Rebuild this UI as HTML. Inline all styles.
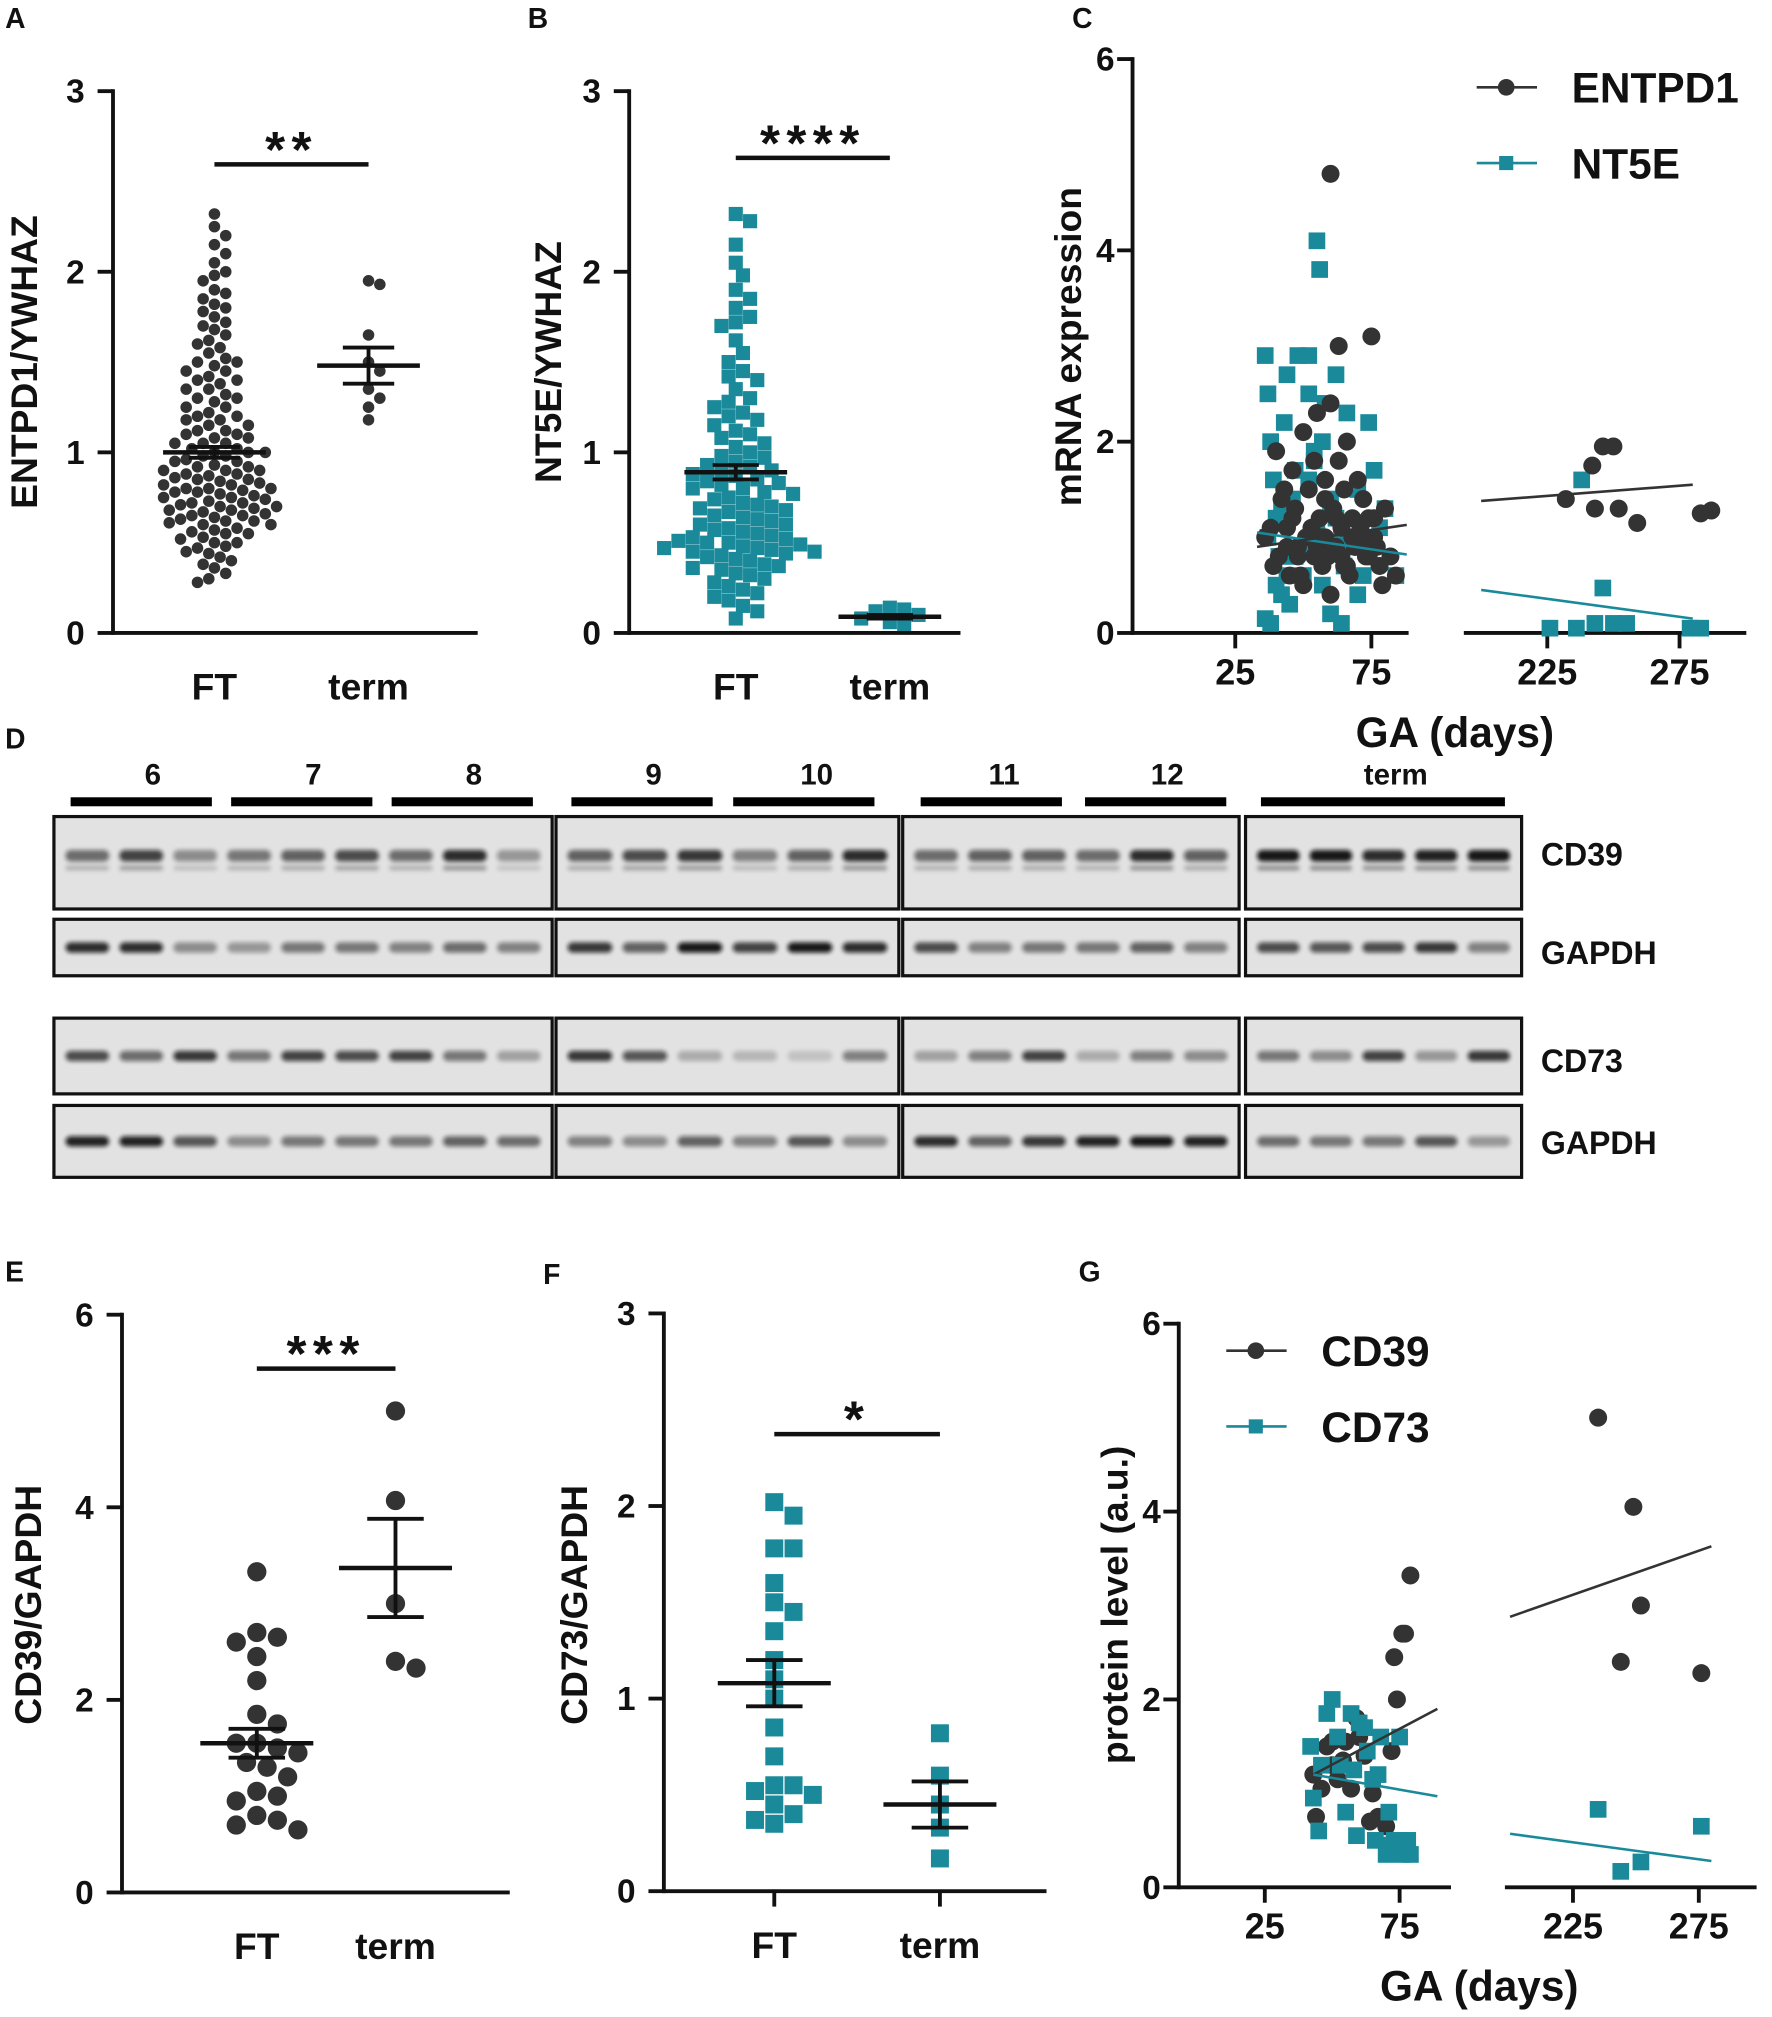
<!DOCTYPE html>
<html><head><meta charset="utf-8"><style>
html,body{margin:0;padding:0;background:#fff}
svg{display:block}
text{font-family:"Liberation Sans",sans-serif;font-weight:bold;fill:#111}
</style></head><body>
<svg id="fig" width="1772" height="2017" viewBox="0 0 1380 1571" preserveAspectRatio="none" xmlns="http://www.w3.org/2000/svg">
<defs><filter id="blur" x="-20%" y="-100%" width="140%" height="300%"><feGaussianBlur stdDeviation="1.6"/></filter></defs>
</svg>
<script>
// ---------- DATA ----------
const catsAB=["FT","term"];
const aFT=[2.32,2.25,2.2,2.15,2.1,2.05,2.0,1.98,1.95,1.9,1.88,1.85,1.82,1.8,1.78,1.75,1.72,1.7,1.68,1.65,1.62,1.6,1.58,1.55,1.52,1.5,1.5,1.48,1.45,1.45,1.42,1.4,1.4,1.38,1.35,1.35,1.32,1.3,1.3,1.28,1.25,1.25,1.22,1.2,1.2,1.18,1.18,1.15,1.15,1.12,1.12,1.1,1.1,1.08,1.08,1.05,1.05,1.05,1.02,1.02,1.0,1.0,1.0,0.98,0.98,0.96,0.95,0.95,0.93,0.92,0.92,0.9,0.9,0.9,0.88,0.88,0.87,0.86,0.85,0.85,0.84,0.83,0.82,0.82,0.8,0.8,0.8,0.79,0.78,0.78,0.77,0.76,0.75,0.75,0.74,0.73,0.72,0.72,0.71,0.7,0.7,0.69,0.68,0.68,0.67,0.66,0.65,0.65,0.64,0.63,0.62,0.62,0.61,0.6,0.6,0.58,0.57,0.56,0.55,0.55,0.53,0.52,0.5,0.5,0.48,0.47,0.45,0.44,0.42,0.4,0.38,0.36,0.33,0.3,0.28];
const aTerm=[1.95,1.93,1.65,1.5,1.45,1.35,1.3,1.25,1.18];
const aMean=[1.0,1.48], aSem=[0.03,0.1];
const bFT=[2.32,2.28,2.15,2.05,1.98,1.9,1.85,1.8,1.75,1.72,1.7,1.62,1.55,1.5,1.45,1.42,1.4,1.35,1.3,1.28,1.25,1.22,1.2,1.18,1.15,1.12,1.1,1.08,1.05,1.03,1.0,0.98,0.97,0.95,0.93,0.92,0.9,0.9,0.88,0.87,0.85,0.84,0.83,0.82,0.8,0.8,0.78,0.77,0.75,0.74,0.72,0.71,0.7,0.69,0.68,0.67,0.65,0.64,0.63,0.62,0.6,0.6,0.58,0.57,0.56,0.55,0.54,0.53,0.52,0.51,0.5,0.5,0.49,0.48,0.47,0.47,0.46,0.45,0.45,0.44,0.43,0.42,0.41,0.4,0.38,0.37,0.36,0.35,0.33,0.32,0.3,0.28,0.26,0.24,0.22,0.2,0.18,0.15,0.12,0.08];
const bTerm=[0.14,0.13,0.12,0.1,0.08,0.06,0.05];
const bMean=[0.89,0.09], bSem=[0.04,0.01];
const eFT=[3.33,2.7,2.65,2.6,2.45,2.2,1.85,1.75,1.55,1.55,1.5,1.45,1.35,1.3,1.2,1.05,1.0,0.95,0.8,0.75,0.7,0.65];
const eTerm=[5.0,4.07,3.0,2.4,2.33];
const eMean=[1.55,3.37], eSem=[0.15,0.51];
const fFT=[2.02,1.95,1.78,1.78,1.6,1.5,1.45,1.35,1.2,1.1,1.0,0.85,0.7,0.55,0.55,0.5,0.45,0.4,0.37,0.35,0.52];
const fTerm=[0.82,0.6,0.45,0.33,0.17];
const fMean=[1.08,0.45], fSem=[0.12,0.12];
// Panel C: [day, value]
const cEntDays=[40,42,44,45,46,47,48,50,50,52,53,54,55,56,57,58,58,60,60,61,62,63,64,65,65,66,67,68,69,70,70,72,73,74,75,76,78,80,82,84,38,41,43,46,49,51,55,59,62,66,69,71,74,77,79,36,39,44,48,53,57,61,64,68,72,76,60,63,54,58,232,242,246,250,243,252,259,283,287];
const cEntVals=[1.9,1.4,1.1,0.6,1.7,1.3,0.9,2.1,0.5,1.5,1.0,0.8,2.3,1.2,0.7,1.6,1.0,2.4,0.4,1.3,0.9,1.8,1.1,0.7,1.5,2.0,0.6,1.2,0.9,1.6,1.0,1.4,0.8,1.2,3.1,1.0,0.7,1.3,0.8,0.6,1.1,0.8,1.5,1.2,0.6,1.0,0.9,0.8,1.2,0.7,0.9,1.1,0.8,0.9,0.5,1.0,0.7,0.9,0.8,1.1,1.0,0.9,0.8,1.0,0.9,1.2,4.8,3.0,1.8,1.4,1.4,1.75,1.95,1.95,1.3,1.3,1.15,1.25,1.28];
const cNtDays=[36,37,38,39,40,41,42,43,44,46,48,50,52,54,55,56,58,60,62,64,66,70,72,74,76,80,84,38,40,45,50,55,60,65,70,75,37,42,47,52,57,62,67,72,78,36,44,54,64,52,57,60,47,226,236,238,243,246,250,255,279,283];
const cNtVals=[2.9,2.5,2.0,1.6,1.2,0.8,0.4,2.2,2.7,1.4,2.9,0.6,2.5,1.8,4.1,3.8,2.4,1.3,2.7,1.0,2.3,1.5,0.9,2.2,1.7,1.3,0.6,0.1,0.5,0.3,0.9,1.1,0.2,0.7,0.4,1.0,1.0,1.3,0.8,1.6,0.5,1.2,0.9,0.6,1.1,0.15,0.6,1.9,0.1,2.9,2.0,1.4,1.7,0.05,0.05,1.6,0.1,0.47,0.1,0.1,0.05,0.05];
const cFitEnt=[[33,0.9],[88,1.13],[200,1.38],[280,1.55]];
const cFitNt=[[33,1.05],[88,0.82],[200,0.45],[280,0.15]];
// Panel G
const gCd39Days=[43,44,46,48,50,50,52,54,55,57,59,60,62,64,65,67,70,72,73,74,76,77,79,235,249,252,244,276];
const gCd39Vals=[1.2,0.75,1.05,1.5,1.55,1.3,1.15,1.35,1.55,1.05,1.8,1.6,1.4,0.7,1.0,0.75,0.65,1.45,2.45,2.0,2.7,2.7,3.32,5.0,4.05,3.0,2.4,2.28];
const gCd73Days=[42,43,45,46,48,50,52,53,55,57,58,59,60,62,63,65,66,67,68,70,71,72,73,75,76,78,79,235,244,252,276];
const gCd73Vals=[1.5,0.95,0.6,1.3,1.85,2.0,1.6,1.3,0.8,1.85,1.25,0.55,1.75,1.7,1.45,1.15,0.5,1.2,1.6,0.35,0.8,0.45,0.5,1.6,0.35,0.5,0.35,0.83,0.17,0.27,0.65];
const gFitCd39=[[43,1.2],[89,1.9],[200,2.88],[280,3.63]];
const gFitCd73=[[43,1.2],[89,0.97],[200,0.57],[280,0.28]];
const ticks03=[0,1,2,3], ticks06=[0,2,4,6];
const xTicks1=[25,75], xTicks2=[225,275];

// ---------- helpers ----------
const NS="http://www.w3.org/2000/svg", svg=document.getElementById('fig');
const TEAL="#1a8a9a", DARK="#333";
function mk(tag,at,parent,txt){const e=document.createElementNS(NS,tag);for(const k in at)e.setAttribute(k,at[k]);if(txt!=null)e.textContent=txt;(parent||svg).appendChild(e);return e;}
function grp(name){const g=mk('g',{});return g;}
function line(g,x1,y1,x2,y2,w,c){return mk('line',{x1,y1,x2,y2,stroke:c||'#111','stroke-width':w||3},g);}
function txt(g,x,y,s,size,anchor,rot){const a={x,y,'font-size':size,'text-anchor':anchor||'middle'};if(rot)a.transform=`rotate(-90 ${x} ${y})`;return mk('text',a,g,s);}
function letter(x,y,s){const t=txt(svg,x,y,s,22,'start');}
function swarm(vals,y,cx,d){const order=vals.map((v,i)=>i).sort((a,b)=>vals[b]-vals[a]);const placed=[];const out=[];
 for(const i of order){const py=y(vals[i]);let k=0,px;while(true){const off=Math.ceil(k/2)*(k%2?1:-1)*d*0.5;px=cx+off;if(!placed.some(p=>Math.hypot(p[0]-px,p[1]-py)<d))break;k++;if(k>60)break;}placed.push([px,py]);out.push([px,py]);}return out;}
function mark(g,x,y,shape,size,color){if(shape==='c')return mk('circle',{cx:x,cy:y,r:size/2,fill:color},g);return mk('rect',{x:x-size/2,y:y-size/2,width:size,height:size,fill:color},g);}

// ---------- dot plot panels ----------
function dotPanel(o){
 const g=grp(o.name);
 const y=v=>o.y0-(v/o.max)*(o.y0-o.yTop);
 const ax=grp(o.name+'-y-axis');g.appendChild(ax);
 line(ax,o.x0,o.yTop-1.5,o.x0,o.y0+1.5,3);
 o.ticks.forEach(t=>{line(ax,o.x0-12,y(t),o.x0,y(t),3);txt(ax,o.x0-22,y(t)+9,String(t),26,'end');});
 const xa=grp(o.name+'-x-axis');g.appendChild(xa);
 line(xa,o.x0,o.y0,o.x1,o.y0,3);
 o.cx.forEach((c,i)=>{if(o.xticks)line(xa,c,o.y0,c,o.y0+12,3);txt(xa,c,o.y0+52,catsAB[i],29);});
 const yt=txt(g,o.ytx,o.yty,o.ytitle,29,'middle',true);
 [o.d0,o.d1].forEach((vals,i)=>{const s=grp(o.name+'-points-'+catsAB[i].toLowerCase());g.appendChild(s);
  swarm(vals,y,o.cx[i],(o.size+1)*(o.pack||1)).forEach(p=>{const m=mark(s,p[0],p[1],o.shape,o.size,o.color);});});
 o.mean.forEach((m,i)=>{const s=grp(o.name+'-mean-sem-'+catsAB[i].toLowerCase());g.appendChild(s);
  const c=o.cx[i];line(s,c-o.mw,y(m),c+o.mw,y(m),3.5);line(s,c,y(m-o.sem[i]),c,y(m+o.sem[i]),3);
  line(s,c-o.cw,y(m-o.sem[i]),c+o.cw,y(m-o.sem[i]),3);line(s,c-o.cw,y(m+o.sem[i]),c+o.cw,y(m+o.sem[i]),3);});
 const sg=grp(o.name+'-significance');g.appendChild(sg);
 line(sg,o.cx[0],o.sigY,o.cx[1],o.sigY,3.5);
 const st=txt(sg,(o.cx[0]+o.cx[1])/2,o.sigY+o.starDy,o.stars,40);st.setAttribute('letter-spacing','5');
}
dotPanel({name:'panel-a',x0:88,x1:372,y0:493,yTop:71,max:3,ticks:ticks03,cx:[167,287],ytitle:'ENTPD1/YWHAZ',ytx:29,yty:282,d0:aFT,d1:aTerm,mean:aMean,sem:aSem,shape:'c',size:9,pack:0.88,color:DARK,mw:40,cw:20,sigY:128,starDy:2,stars:'**'});
dotPanel({name:'panel-b',x0:490,x1:748,y0:493,yTop:71,max:3,ticks:ticks03,cx:[573,693],ytitle:'NT5E/YWHAZ',ytx:437,yty:282,d0:bFT,d1:bTerm,mean:bMean,sem:bSem,shape:'s',size:11,pack:0.93,color:TEAL,mw:40,cw:18,sigY:123,starDy:2,stars:'****'});
dotPanel({name:'panel-e',x0:95,x1:397,y0:1474,yTop:1024,max:6,ticks:ticks06,cx:[200,308],ytitle:'CD39/GAPDH',ytx:32,yty:1250,d0:eFT,d1:eTerm,mean:eMean,sem:eSem,shape:'c',size:15,color:DARK,mw:44,cw:22,sigY:1066,starDy:2,stars:'***'});
dotPanel({name:'panel-f',x0:517,x1:815,y0:1473,yTop:1023,max:3,ticks:ticks03,cx:[603,732],xticks:true,ytitle:'CD73/GAPDH',ytx:457,yty:1250,d0:fFT,d1:fTerm,mean:fMean,sem:fSem,shape:'s',size:14,color:TEAL,mw:44,cw:22,sigY:1117,starDy:2,stars:'*'});

// ---------- scatter split panels ----------
function splitPanel(o){
 const g=grp(o.name);
 const y=v=>o.y0-(v/6)*(o.y0-o.yTop);
 const s1=d=>o.a1[1]+(d-o.a1[0])*o.a1[2], s2=d=>o.a2[1]+(d-o.a2[0])*o.a2[2];
 const xs=d=>d<150?s1(d):s2(d);
 const ax=grp(o.name+'-y-axis');g.appendChild(ax);
 line(ax,o.x0,o.yTop-1.5,o.x0,o.y0+1.5,3);
 ticks06.forEach(t=>{line(ax,o.x0-12,y(t),o.x0,y(t),3);txt(ax,o.x0-14,y(t)+9,String(t),26,'end');});
 const xa=grp(o.name+'-x-axis');g.appendChild(xa);
 line(xa,o.x0,o.y0,o.seg1[1],o.y0,3);line(xa,o.seg2[0],o.y0,o.seg2[1],o.y0,3);
 xTicks1.concat(xTicks2).forEach(t=>{line(xa,xs(t),o.y0,xs(t),o.y0+12,3);txt(xa,xs(t),o.y0+40,String(t),28);});
 const xt=txt(g,o.xtx,o.xty,'GA (days)',33);
 const yt=txt(g,o.ytx,o.yty,o.ytitle,29,'middle',true);
 o.series.forEach(sr=>{const sg=grp(o.name+'-series-'+sr.label.toLowerCase());g.appendChild(sg);
  sr.days.forEach((d,i)=>{const m=mark(sg,xs(d),y(sr.vals[i]),sr.shape,sr.size,sr.color);});
 });
 o.series.forEach(sr=>{const f=sr.fit;const fl=grp(o.name+'-fit-'+sr.label.toLowerCase());g.appendChild(fl);
  line(fl,s1(f[0][0]),y(f[0][1]),s1(f[1][0]),y(f[1][1]),2,sr.lc);line(fl,s2(f[2][0]),y(f[2][1]),s2(f[3][0]),y(f[3][1]),2,sr.lc);});
 o.legend.forEach((sr,i)=>{const lg=grp('legend-entry-'+sr.label.toLowerCase());g.appendChild(lg);const ly=o.legY+i*59;
  line(lg,o.legX,ly,o.legX+47,ly,2,sr.lc);mark(lg,o.legX+23,ly,sr.shape,sr.shape==='c'?13:11,sr.color);txt(lg,o.legX+74,ly+12,sr.label,33,'start');});
}
const cEnt={label:'ENTPD1',days:cEntDays,vals:cEntVals,shape:'c',size:14,color:DARK,lc:DARK,fit:cFitEnt};
const cNt={label:'NT5E',days:cNtDays,vals:cNtVals,shape:'s',size:13,color:TEAL,lc:TEAL,fit:cFitNt};
splitPanel({name:'panel-c',x0:882,y0:493,yTop:46,seg1:[882,1097],seg2:[1140,1360],a1:[25,962,2.12],a2:[225,1205,2.06],xtx:1133,xty:582,ytitle:'mRNA expression',ytx:842,yty:270,legX:1150,legY:68,
 series:[cNt,cEnt],legend:[cEnt,cNt]});
const gA={label:'CD39',days:gCd39Days,vals:gCd39Vals,shape:'c',size:14,color:DARK,lc:DARK,fit:gFitCd39};
const gB={label:'CD73',days:gCd73Days,vals:gCd73Vals,shape:'s',size:13,color:TEAL,lc:TEAL,fit:gFitCd73};
splitPanel({name:'panel-g',x0:918,y0:1470,yTop:1031,seg1:[918,1130],seg2:[1172,1368],a1:[25,985,2.1],a2:[225,1225,1.96],xtx:1152,xty:1558,ytitle:'protein level (a.u.)',ytx:878,yty:1250,legX:955,legY:1052,
 series:[gA,gB],legend:[gA,gB]});

// ---------- western blot panel D ----------
(function(){
 const g=grp('panel-d-western-blot');
 const groups=[['6',119,55,165],['7',244,180,290],['8',369,305,415],['9',509,445,555],['10',636,571,681],['11',782,717,827],['12',909,845,955],['term',1087,982,1172]];
 groups.forEach(gr=>{const h=grp('lane-group-'+gr[0]);g.appendChild(h);txt(h,gr[1],611,gr[0],23);mk('rect',{x:gr[2],y:621,width:gr[3]-gr[2],height:7,fill:'#000'},h);});
 const cols=[[42,430,9],[433,700,6],[703,965,6],[970,1185,5]];
 const rows=[['CD39',636,708,665],['GAPDH',716,760,742],['CD73',793,852,826],['GAPDH',861,917,890]];
 const inten=[
  [[.55,.75,.4,.5,.6,.7,.55,.85,.35],[.6,.7,.8,.45,.6,.85],[.55,.6,.6,.55,.85,.6],[.95,.95,.85,.9,.95]],
  [[.85,.85,.4,.35,.5,.5,.45,.55,.45],[.8,.6,.95,.75,.95,.85],[.7,.45,.5,.5,.6,.45],[.7,.65,.7,.8,.45]],
  [[.7,.55,.8,.5,.75,.7,.75,.5,.3],[.8,.65,.25,.2,.15,.45],[.3,.45,.75,.25,.45,.4],[.5,.4,.75,.35,.8]],
  [[.9,.9,.65,.4,.5,.5,.5,.6,.55],[.45,.4,.6,.45,.65,.4],[.85,.6,.8,.9,.95,.9],[.55,.5,.5,.65,.35]]];
 rows.forEach((r,ri)=>{const rg=grp('blot-row-'+r[0].toLowerCase()+'-'+ri);g.appendChild(rg);
  cols.forEach((c,ci)=>{mk('rect',{x:c[0],y:r[1],width:c[1]-c[0],height:r[2]-r[1],fill:'#e2e2e2',stroke:'#111','stroke-width':2.5},rg);
   const lw=(c[1]-c[0]-10)/c[2];
   for(let k=0;k<c[2];k++){const a=inten[ri][ci][k];const bx=c[0]+5+k*lw+4;const by=ri===0?r[1]+26:(r[1]+r[2])/2-4;
    mk('rect',{x:bx,y:by,width:lw-8,height:ri===0?9:8,rx:4,fill:'#111',opacity:a,filter:'url(#blur)'},rg);
    if(ri===0){mk('rect',{x:bx,y:by+12,width:lw-8,height:4,rx:2,fill:'#222',opacity:a*0.45,filter:'url(#blur)'},rg);}
   }});
  txt(rg,1200,r[3]+9,r[0],25,'start');});
})();
letter(4,22,'A');letter(411,22,'B');letter(835,22,'C');letter(4,583,'D');letter(4,998,'E');letter(423,1000,'F');letter(840,998,'G');
</script>
</body></html>
